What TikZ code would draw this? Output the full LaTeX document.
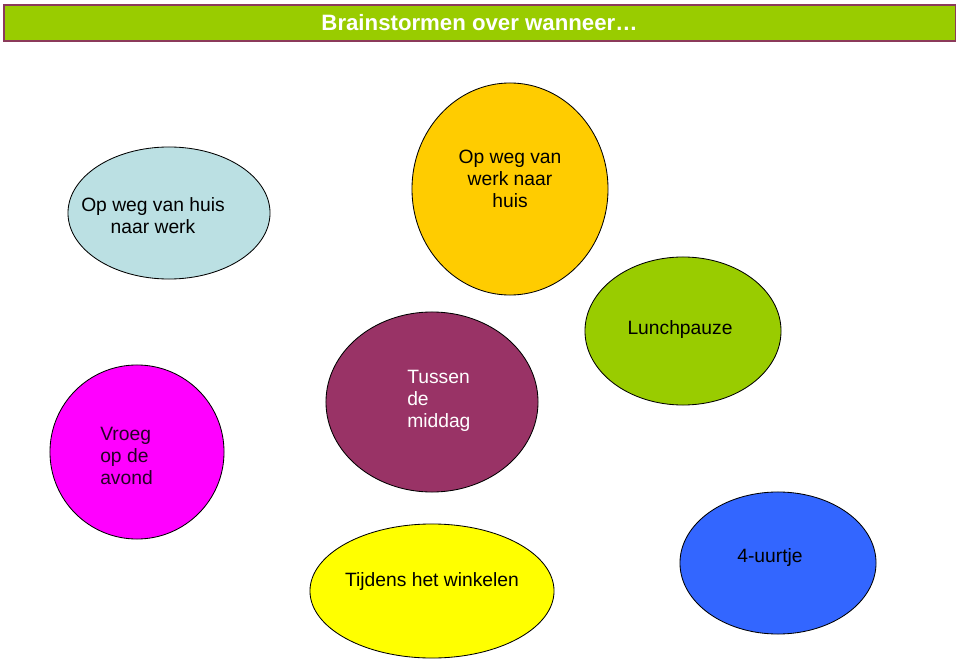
\documentclass[tikz,border=0pt]{standalone}
\usepackage{fontspec}
\setmainfont{Liberation Sans}
\usetikzlibrary{shapes.geometric}

\definecolor{titlegreen}{HTML}{99CC00}
\definecolor{titleborder}{HTML}{8B3A5A}
\definecolor{huisblue}{HTML}{BBE0E3}
\definecolor{werkorange}{HTML}{FFCC00}
\definecolor{lunchgreen}{HTML}{99CC00}
\definecolor{avondpink}{HTML}{FF00FF}
\definecolor{middagpurple}{HTML}{993366}
\definecolor{winkelyellow}{HTML}{FFFF00}
\definecolor{uurtjeblue}{HTML}{3366FF}

\tikzset{
  bubble/.style={ellipse, draw=black, line width=0.6pt, inner sep=0pt},
  bubbletext/.style={font=\fontsize{13.7}{15.6}\selectfont, inner sep=0pt},
}

\begin{document}
\begin{tikzpicture}[x=0.025cm, y=-0.025cm]
\useasboundingbox (0,0) rectangle (960,662);

% title bar
\node[draw=titleborder, line width=0.9pt, fill=titlegreen, minimum width=23.775cm, minimum height=0.9cm, inner sep=0pt,
      text=white, font=\fontsize{15.8}{18}\selectfont\bfseries] (title) at (479.5,23) {Brainstormen over wanneer\dots};

% bubbles
\node[bubble, fill=huisblue, minimum width=5.05cm, minimum height=3.3cm] (huis) at (169,213) {};
\node[bubble, fill=werkorange, minimum width=4.9cm, minimum height=5.3cm] (werk) at (510,189) {};
\node[bubble, fill=lunchgreen, minimum width=4.9cm, minimum height=3.7cm] (lunch) at (683,331) {};
\node[bubble, fill=avondpink, minimum width=4.35cm, minimum height=4.35cm] (avond) at (137,452) {};
\node[bubble, fill=middagpurple, minimum width=5.3cm, minimum height=4.5cm] (middag) at (432,402) {};
\node[bubble, fill=winkelyellow, minimum width=6.1cm, minimum height=3.35cm] (winkel) at (432,591) {};
\node[bubble, fill=uurtjeblue, minimum width=4.9cm, minimum height=3.55cm] (uurtje) at (778,563) {};

% bubble texts
\node[bubbletext, align=center] (huis-t) at (153,216) {Op weg van huis\\naar werk};
\node[bubbletext, align=center] (werk-t) at (510,179) {Op weg van\\werk naar\\huis};
\node[bubbletext] (lunch-t) at (680,330) {Lunchpauze};
\node[bubbletext, align=left, anchor=west, text=black!85!avondpink] (avond-t) at (100,456) {Vroeg\\op de\\avond};
\node[bubbletext, align=left, anchor=west, text=white] (middag-t) at (407,401) {Tussen\\de\\middag};
\node[bubbletext] (winkel-t) at (432,582) {Tijdens het winkelen};
\node[bubbletext] (uurtje-t) at (770,558) {4-uurtje};

\end{tikzpicture}
\end{document}
